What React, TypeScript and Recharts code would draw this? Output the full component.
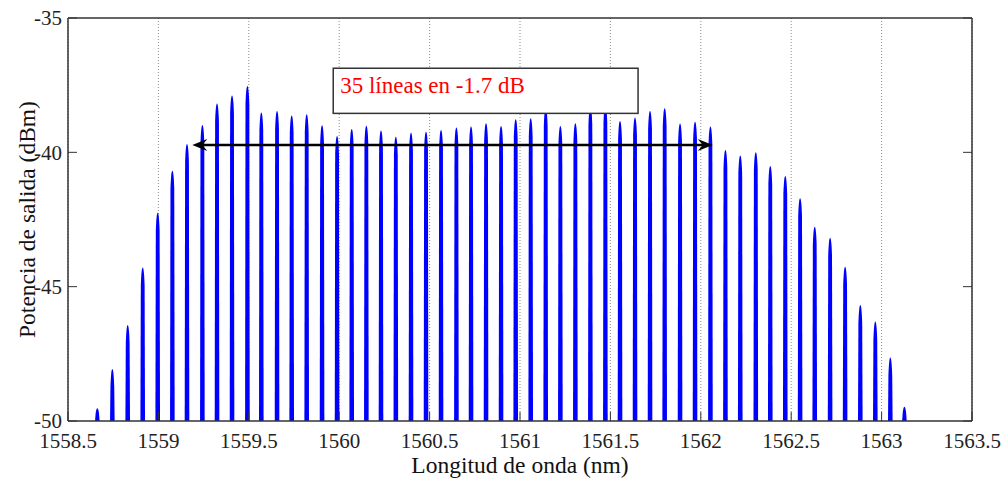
import React from "react";
import {
  ComposedChart,
  Bar,
  XAxis,
  YAxis,
  CartesianGrid,
  ReferenceLine,
} from "recharts";

// Wavelengths of the comb lines (nm)
const wavelengths = [
  1558.662, 1558.745, 1558.83, 1558.913, 1558.996, 1559.077, 1559.158, 1559.243,
  1559.324, 1559.407, 1559.492, 1559.569, 1559.656, 1559.737, 1559.82, 1559.905,
  1559.988, 1560.069, 1560.15, 1560.231, 1560.313, 1560.397, 1560.48, 1560.563,
  1560.648, 1560.729, 1560.812, 1560.895, 1560.976, 1561.059, 1561.142, 1561.223,
  1561.306, 1561.389, 1561.472, 1561.553, 1561.636, 1561.719, 1561.8, 1561.885,
  1561.968, 1562.053, 1562.136, 1562.218, 1562.304, 1562.384, 1562.467, 1562.549,
  1562.63, 1562.715, 1562.798, 1562.882, 1562.965, 1563.048, 1563.126,
];

// Peak output power of each line (dBm)
const peakPower = [
  -49.53, -48.06, -46.43, -44.29, -42.25, -40.69, -39.69, -38.98,
  -38.18, -37.88, -37.53, -38.52, -38.46, -38.63, -38.58, -38.99,
  -39.39, -39.13, -39.01, -39.19, -39.42, -39.27, -39.23, -39.17,
  -39.08, -39.04, -38.92, -39.02, -38.77, -38.73, -38.35, -39.02,
  -38.92, -38.3, -38.25, -38.83, -38.7, -38.46, -38.36, -38.93,
  -38.86, -39.04, -39.91, -40.12, -40.0, -40.51, -40.88, -41.71,
  -42.77, -43.18, -44.26, -45.68, -46.3, -47.64, -49.47,
];

const xTicks = [1558.5, 1559, 1559.5, 1560, 1560.5, 1561, 1561.5, 1562, 1562.5, 1563, 1563.5];
const yTicks = [-50, -45, -40, -35];
const xDomain = [1558.5, 1563.5];
const yDomain = [-50, -35];

const annotationText = "35 líneas en -1.7 dB";
const arrowFrom = 1559.1875;
const arrowTo = 1562.066;
const arrowLevel = -39.73;
const boxX = [1559.967, 1561.653];
const boxY = [-36.87, -38.55];

const FLOOR = -50;
const data = wavelengths.map((wl, i) => ({ wl, range: [FLOOR, peakPower[i]] }));

const FONT = "'Liberation Serif', 'Times New Roman', serif";
const BLUE = "#0000ff";

const Spike = (props: any) => {
  const { x, y, width, height } = props;
  if (height == null || isNaN(height)) return null;
  const cx = x + width / 2;
  const top = y;
  const bottom = y + height;
  const taper = Math.min(18, height * 0.6);
  const d = `M${cx - 2.3},${bottom} L${cx - 1.9},${top + taper} Q${cx - 1.3},${top} ${cx},${top} Q${cx + 1.3},${top} ${cx + 1.9},${top + taper} L${cx + 2.3},${bottom} Z`;
  return <path d={d} fill={BLUE} stroke="none" />;
};

const ArrowShape = (props: any) => {
  const { x1, y1, x2, y2 } = props;
  const y = y1;
  const L = 15;
  const W = 6;
  const N = 10;
  const left = `${x1},${y} ${x1 + L},${y - W} ${x1 + N},${y} ${x1 + L},${y + W}`;
  const right = `${x2},${y2} ${x2 - L},${y2 - W} ${x2 - N},${y2} ${x2 - L},${y2 + W}`;
  return (
    <g>
      <line x1={x1 + 6} y1={y} x2={x2 - 6} y2={y2} stroke="#000" strokeWidth={2.5} />
      <polygon points={left} fill="#000" />
      <polygon points={right} fill="#000" />
    </g>
  );
};

const BoxShape = (props: any) => {
  const { x1, y1, x2, y2 } = props;
  const x = Math.min(x1, x2);
  const y = Math.min(y1, y2);
  const width = Math.abs(x2 - x1);
  const height = Math.abs(y2 - y1);
  return (
    <g>
      <rect x={x} y={y} width={width} height={height} fill="#fff" stroke="#333" strokeWidth={1.5} />
      <text x={x + 7} y={y + 25} fill="#ff0000" fontSize={23} fontFamily={FONT}>
        {annotationText}
      </text>
    </g>
  );
};

const YLabel = (props: any) => {
  const vb = props.viewBox || {};
  const cy = (vb.y || 0) + (vb.height || 0) / 2;
  return (
    <text
      x={35}
      y={cy}
      transform={`rotate(-90, 35, ${cy})`}
      textAnchor="middle"
      fontSize={23.5}
      fontFamily={FONT}
      fill="#111"
    >
      Potencia de salida (dBm)
    </text>
  );
};

const tickStyle = { fontSize: 21, fontFamily: FONT, fill: "#222" };
const W = 1004;
const H = 479;

export default function App() {
  return (
    <div style={{ position: "absolute", left: 0, top: 0, width: W, height: H, background: "#fff" }}>
      <div style={{ position: "absolute", left: 0, top: 0 }}>
        <ComposedChart
          width={W}
          height={H}
          data={data}
          margin={{ top: 8, right: 22, bottom: 0, left: 8 }}
        >
          <CartesianGrid
            xAxisId="b"
            yAxisId="l"
            horizontal={false}
            stroke="#8a8a8a"
            strokeDasharray="1 2"
          />
          <XAxis
            xAxisId="b"
            dataKey="wl"
            type="number"
            domain={xDomain}
            ticks={xTicks}
            interval={0}
            allowDataOverflow
            height={58}
            tickSize={-9}
            tickMargin={21}
            tick={tickStyle}
            stroke="#333"
            axisLine={{ stroke: "#333", strokeWidth: 1.5 }}
            tickLine={{ stroke: "#333" }}
            label={{
              value: "Longitud de onda (nm)",
              position: "insideBottom",
              offset: 6,
              style: { fontSize: 23.5, fontFamily: FONT, fill: "#111" },
            }}
          />
          <XAxis
            xAxisId="t"
            orientation="top"
            type="number"
            domain={xDomain}
            ticks={xTicks}
            interval={0}
            allowDataOverflow
            height={10}
            tickSize={-9}
            tickFormatter={() => ""}
            axisLine={{ stroke: "#333", strokeWidth: 1.5 }}
            tickLine={{ stroke: "#333" }}
          />
          <YAxis
            yAxisId="l"
            type="number"
            domain={yDomain}
            ticks={yTicks}
            interval={0}
            allowDataOverflow
            width={60}
            tickSize={-9}
            tickMargin={15}
            tick={tickStyle}
            axisLine={{ stroke: "#333", strokeWidth: 1.5 }}
            tickLine={{ stroke: "#333" }}
            label={<YLabel />}
          />
          <YAxis
            yAxisId="r"
            orientation="right"
            type="number"
            domain={yDomain}
            ticks={yTicks}
            interval={0}
            allowDataOverflow
            width={10}
            tickSize={-9}
            tickFormatter={() => ""}
            axisLine={{ stroke: "#333", strokeWidth: 1.5 }}
            tickLine={{ stroke: "#333" }}
          />
          <Bar
            xAxisId="b"
            yAxisId="l"
            dataKey="range"
            barSize={6}
            shape={<Spike />}
            isAnimationActive={false}
          />
        </ComposedChart>
      </div>
      <div style={{ position: "absolute", left: 0, top: 0, pointerEvents: "none" }}>
        <ComposedChart
          width={W}
          height={H}
          data={data}
          margin={{ top: 18, right: 32, bottom: 58, left: 68 }}
        >
          <XAxis xAxisId="b" dataKey="wl" type="number" domain={xDomain} allowDataOverflow hide />
          <YAxis yAxisId="l" type="number" domain={yDomain} allowDataOverflow hide />
          <ReferenceLine
            xAxisId="b"
            yAxisId="l"
            segment={[
              { x: arrowFrom, y: arrowLevel },
              { x: arrowTo, y: arrowLevel },
            ]}
            shape={<ArrowShape />}
          />
          <ReferenceLine
            xAxisId="b"
            yAxisId="l"
            segment={[
              { x: boxX[0], y: boxY[0] },
              { x: boxX[1], y: boxY[1] },
            ]}
            shape={<BoxShape />}
          />
        </ComposedChart>
      </div>
    </div>
  );
}
